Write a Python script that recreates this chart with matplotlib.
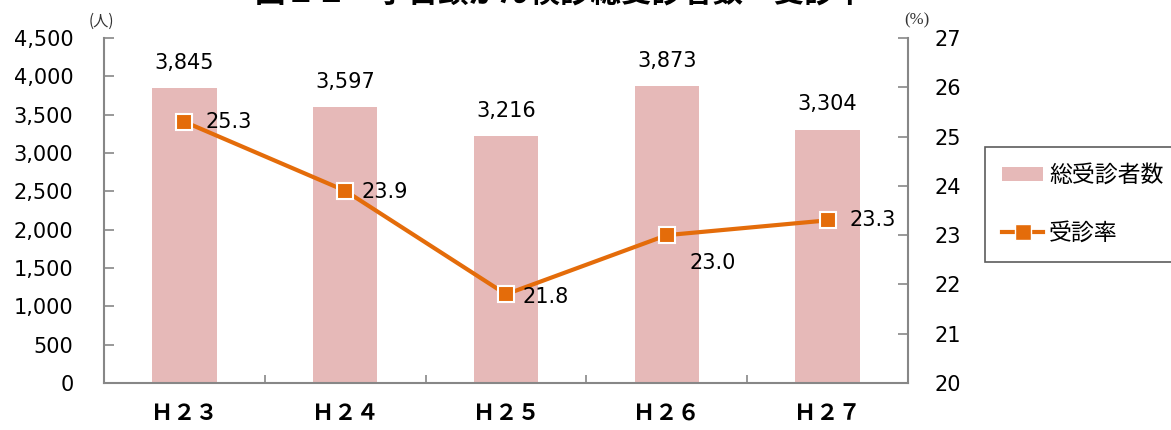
import matplotlib
matplotlib.use("Agg")
import matplotlib.pyplot as plt
from matplotlib.lines import Line2D
from matplotlib.patches import Patch

plt.rcParams['font.family'] = ['DejaVu Sans', 'Noto Sans CJK JP']

categories = ["Ｈ２３", "Ｈ２４", "Ｈ２５", "Ｈ２６", "Ｈ２７"]
examinees = [3845, 3597, 3216, 3873, 3304]
rate = [25.3, 23.9, 21.8, 23.0, 23.3]
title = "図２２　子宮頸がん検診総受診者数・受診率"
legend_labels = ["総受診者数", "受診率"]

bar_color = "#E6B9B8"
line_color = "#E46C0A"
spine_color = "#878787"

W, H = 1171, 430
fig = plt.figure(figsize=(W / 100, H / 100), dpi=100)
ax = fig.add_axes([104 / W, 1 - 383 / H, (908 - 104) / W, (383 - 38) / H])
ax2 = ax.twinx()

x = list(range(len(categories)))
ax.bar(x, examinees, width=0.4, color=bar_color, zorder=1)
ax.set_xlim(-0.5, len(categories) - 0.5)
ax.set_ylim(0, 4500)
ax.set_yticks(range(0, 4501, 500))
ax.set_yticklabels([f"{v:,}" for v in range(0, 4501, 500)], fontsize=15)
ax.set_xticks(x)
ax.set_xticklabels(categories, fontsize=16, fontweight='bold',
                   family=['Noto Sans CJK JP'])
ax.set_xticks([i + 0.5 for i in range(len(categories) - 1)], minor=True)
ax.tick_params(axis='x', which='major', length=0, pad=14)
ax.tick_params(axis='x', which='minor', length=6, direction='in', color=spine_color, width=1.2)
ax.tick_params(axis='y', direction='in', length=7, color=spine_color, width=1.2, pad=22)

for i, v in enumerate(examinees):
    ax.annotate(f"{v:,}", (i, v), xytext=(0, 11), textcoords='offset points',
                ha='center', va='bottom', fontsize=15)

ax2.plot(x, rate, color=line_color, lw=3, marker='s', markersize=12,
         markerfacecolor=line_color, markeredgecolor='white', markeredgewidth=1.5, zorder=3)
ax2.set_ylim(20, 27)
ax2.set_yticks(range(20, 28))
ax2.set_yticklabels([str(v) for v in range(20, 28)], fontsize=15)
ax2.tick_params(axis='y', direction='in', length=7, color=spine_color, width=1.2, pad=19)

offsets = [(15, 0, 'left', 'center'), (12, -1, 'left', 'center'), (12, -2, 'left', 'center'),
           (16, -20, 'left', 'center'), (16, 0, 'left', 'center')]
for i, v in enumerate(rate):
    dx, dy, ha, va = offsets[i]
    ax2.annotate(f"{v:.1f}", (i, v), xytext=(dx, dy), textcoords='offset points',
                 ha=ha, va=va, fontsize=15)

for a in (ax, ax2):
    a.spines['top'].set_visible(False)
    for s in ('left', 'right', 'bottom'):
        a.spines[s].set_color(spine_color)
        a.spines[s].set_linewidth(1.5)
ax.spines['right'].set_visible(False)
ax2.spines['left'].set_visible(False)
ax2.spines['bottom'].set_visible(False)

fig.text(101 / W, 1 - 21 / H, "(人)", fontsize=11, ha='center', va='center',
         family=['Noto Sans CJK JP'], color='#333333')
fig.text(917 / W, 1 - 20 / H, "(%)", fontsize=12, ha='center', va='center',
         color='#333333', family=['Liberation Serif'])

fig.text(560 / W, 1 - 3 / H, title, fontsize=22, fontweight='bold', ha='center',
         va='baseline', family=['Noto Sans CJK JP'])

handles = [Patch(facecolor=bar_color, edgecolor='none'),
           Line2D([0], [0], color=line_color, lw=3, marker='s', markersize=12,
                  markerfacecolor=line_color, markeredgecolor='white')]
leg = fig.legend(handles, legend_labels, loc='upper left',
                 bbox_to_anchor=(985 / W, 1 - 147 / H),
                 prop={'family': 'Noto Sans CJK JP', 'size': 16.5},
                 frameon=True, fancybox=False, edgecolor='#333333',
                 handlelength=1.8, handleheight=0.6, labelspacing=1.5,
                 borderpad=0.75, handletextpad=0.25, borderaxespad=0)
leg.get_frame().set_linewidth(1.2)

fig.savefig("out.png", dpi=100)
